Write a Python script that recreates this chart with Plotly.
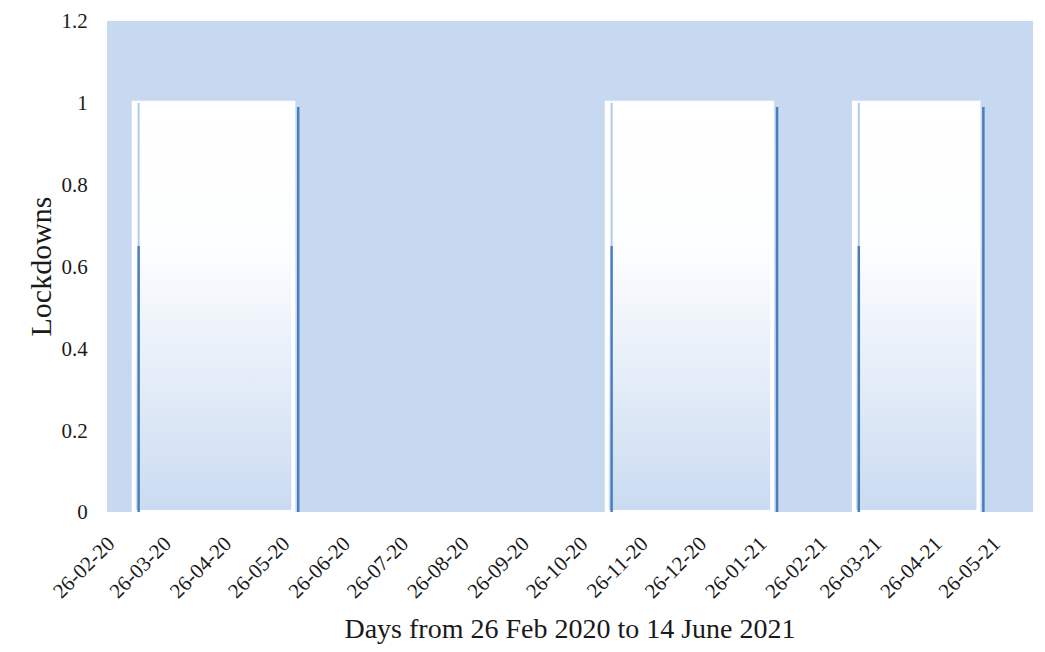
import plotly.graph_objects as go
import pandas as pd

# ---- data ----
lockdown_start = ["2020-03-10", "2020-11-08", "2021-03-15"]
lockdown_end = ["2020-05-31", "2021-02-01", "2021-05-18"]
lockdown_value = [1, 1, 1]

tick_dates = ["2020-02-26", "2020-03-26", "2020-04-26", "2020-05-26", "2020-06-26",
              "2020-07-26", "2020-08-26", "2020-09-26", "2020-10-26", "2020-11-26",
              "2020-12-26", "2021-01-26", "2021-02-26", "2021-03-26", "2021-04-26",
              "2021-05-26"]
tick_labels = ["26-02-20", "26-03-20", "26-04-20", "26-05-20", "26-06-20", "26-07-20",
               "26-08-20", "26-09-20", "26-10-20", "26-11-20", "26-12-20", "26-01-21",
               "26-02-21", "26-03-21", "26-04-21", "26-05-21"]
y_ticks = [0, 0.2, 0.4, 0.6, 0.8, 1, 1.2]
y_labels = ["0", "0.2", "0.4", "0.6", "0.8", "1", "1.2"]

BG = "#C6D9F0"
DARK = "#4A7EBB"
FONT = "Liberation Serif, Times New Roman, serif"

fig = go.Figure()
for s, e, v in zip(lockdown_start, lockdown_end, lockdown_value):
    fig.add_trace(go.Scatter(
        x=[s, s, e, e, s], y=[0, v, v, 0, 0],
        mode="lines", fill="toself",
        line=dict(color="white", width=4),
        fillgradient=dict(type="vertical",
                          colorscale=[[0, "#C9DBF1"], [0.35, "#E6EEF8"], [0.65, "#FDFEFF"], [1, "#FFFFFF"]]),
        hoverinfo="skip", showlegend=False))
    # edge lines (slightly offset, as in the original rendering)
    s2 = pd.Timestamp(s) + pd.Timedelta(days=2.5)
    e2 = pd.Timestamp(e) + pd.Timedelta(days=2.5)
    fig.add_trace(go.Scatter(x=[s2, s2], y=[v * 0.65, v], mode="lines",
                             line=dict(color="#B3CAE7", width=2), hoverinfo="skip", showlegend=False))
    fig.add_trace(go.Scatter(x=[s2, s2], y=[0, v * 0.65], mode="lines",
                             line=dict(color=DARK, width=2.5), hoverinfo="skip", showlegend=False))
    fig.add_trace(go.Scatter(x=[e2, e2], y=[0, v * 0.99], mode="lines",
                             line=dict(color=DARK, width=2.5), hoverinfo="skip", showlegend=False))

fig.update_layout(
    width=1029, height=636,
    margin=dict(l=99, r=4, t=13, b=132),
    paper_bgcolor="white", plot_bgcolor=BG,
    font=dict(family=FONT, size=21, color="#1a1a1a"),
    showlegend=False,
)
fig.update_xaxes(
    type="date", range=["2020-02-25 06:00", "2021-06-15 00:00"],
    tickmode="array", tickvals=tick_dates, ticktext=tick_labels,
    tickangle=-45, tickfont=dict(size=21), ticklabeloverflow="allow",
    ticks="outside", ticklen=10, tickcolor="rgba(0,0,0,0)",
    showgrid=False, zeroline=False, showline=False, automargin=False,
    title=dict(text="Days from 26 Feb 2020 to 14 June 2021", font=dict(size=28), standoff=22),
)
fig.update_yaxes(
    range=[0, 1.2], tickmode="array", tickvals=y_ticks, ticktext=y_labels,
    tickfont=dict(size=21), ticklabeloverflow="allow",
    ticks="outside", ticklen=14, tickcolor="rgba(0,0,0,0)",
    showgrid=False, zeroline=False, showline=False, automargin=False,
    title=dict(text="Lockdowns", font=dict(size=30), standoff=1),
)
fig.write_html("out.html")
